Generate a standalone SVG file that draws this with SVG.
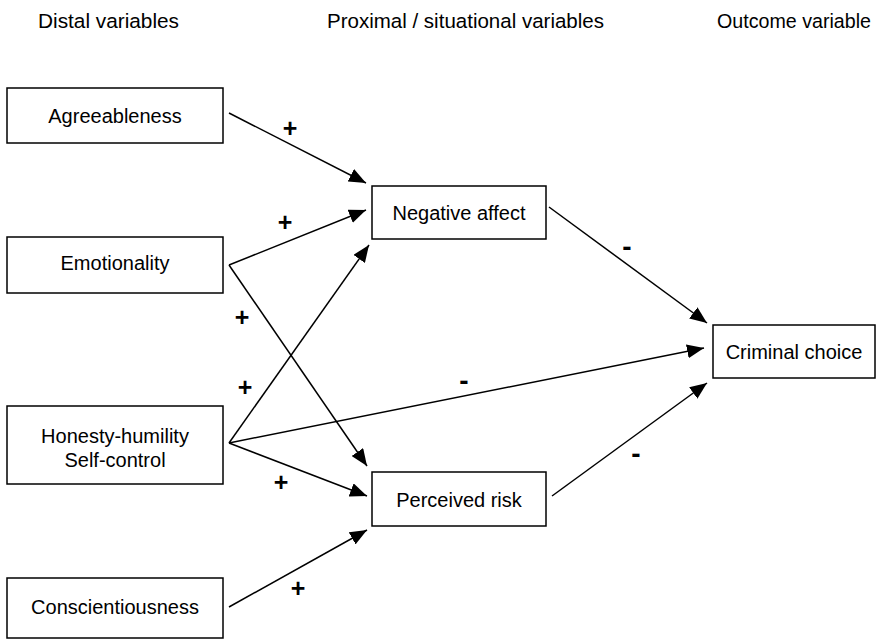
<svg xmlns="http://www.w3.org/2000/svg" width="877" height="640" viewBox="0 0 877 640">
<defs>
<style>
text{font-family:"Liberation Sans",Arial,sans-serif;fill:#000}
.hdr{font-size:20.5px}
.lbl{font-size:20px;text-anchor:middle}
.sgn{font-size:25px;font-weight:bold;text-anchor:middle}
.neg{font-size:28px;font-weight:bold;text-anchor:middle}
.box{fill:#fff;stroke:#000;stroke-width:1.5}
.edge{stroke:#000;stroke-width:1.5;fill:none;marker-end:url(#ah)}
</style>
<marker id="ah" markerUnits="userSpaceOnUse" markerWidth="18" markerHeight="14" refX="17" refY="7" orient="auto">
<path d="M0,0 L17,7 L0,14 Z" fill="#000"/>
</marker>
</defs>
<rect width="877" height="640" fill="#fff"/>
<g id="headers">
<text class="hdr" x="38" y="28" textLength="141" lengthAdjust="spacingAndGlyphs">Distal variables</text>
<text class="hdr" x="327" y="28" textLength="277" lengthAdjust="spacingAndGlyphs">Proximal / situational variables</text>
<text class="hdr" x="717" y="28" textLength="154" lengthAdjust="spacingAndGlyphs">Outcome variable</text>
</g>
<g id="connectors">
<line class="edge" x1="229" y1="113" x2="366" y2="183"/>
<line class="edge" x1="229" y1="265" x2="366" y2="210"/>
<line class="edge" x1="229" y1="265" x2="367" y2="466"/>
<line class="edge" x1="229" y1="443" x2="369" y2="245"/>
<line class="edge" x1="229" y1="443" x2="367" y2="496"/>
<line class="edge" x1="229" y1="443" x2="704" y2="348"/>
<line class="edge" x1="229" y1="607" x2="367" y2="530"/>
<line class="edge" x1="549" y1="207" x2="707" y2="323"/>
<line class="edge" x1="552" y1="496" x2="707" y2="383"/>
<g id="signs">
<text class="sgn" x="290" y="137">+</text>
<text class="sgn" x="285" y="231">+</text>
<text class="sgn" x="242" y="326">+</text>
<text class="sgn" x="245" y="396">+</text>
<text class="sgn" x="281" y="491">+</text>
<text class="sgn" x="298" y="597">+</text>
<text class="neg" x="627" y="256">-</text>
<text class="neg" x="464" y="390">-</text>
<text class="neg" x="636" y="463">-</text>
</g>
</g>
<g id="agreeableness">
<rect class="box" x="7" y="88" width="216" height="55"/>
<text class="lbl" x="115" y="123">Agreeableness</text>
</g>
<g id="emotionality">
<rect class="box" x="7" y="237" width="216" height="56"/>
<text class="lbl" x="115" y="270">Emotionality</text>
</g>
<g id="honesty">
<rect class="box" x="7" y="406" width="216" height="78"/>
<text class="lbl" x="115" y="443">Honesty-humility</text>
<text class="lbl" x="115" y="467">Self-control</text>
</g>
<g id="conscientiousness">
<rect class="box" x="7" y="578" width="216" height="60"/>
<text class="lbl" x="115" y="614">Conscientiousness</text>
</g>
<g id="negative-affect">
<rect class="box" x="372" y="186" width="174" height="53"/>
<text class="lbl" x="459" y="220">Negative affect</text>
</g>
<g id="perceived-risk">
<rect class="box" x="372" y="472" width="174" height="54"/>
<text class="lbl" x="459" y="507">Perceived risk</text>
</g>
<g id="criminal-choice">
<rect class="box" x="713" y="325" width="162" height="53"/>
<text class="lbl" x="794" y="359">Criminal choice</text>
</g>
</svg>
